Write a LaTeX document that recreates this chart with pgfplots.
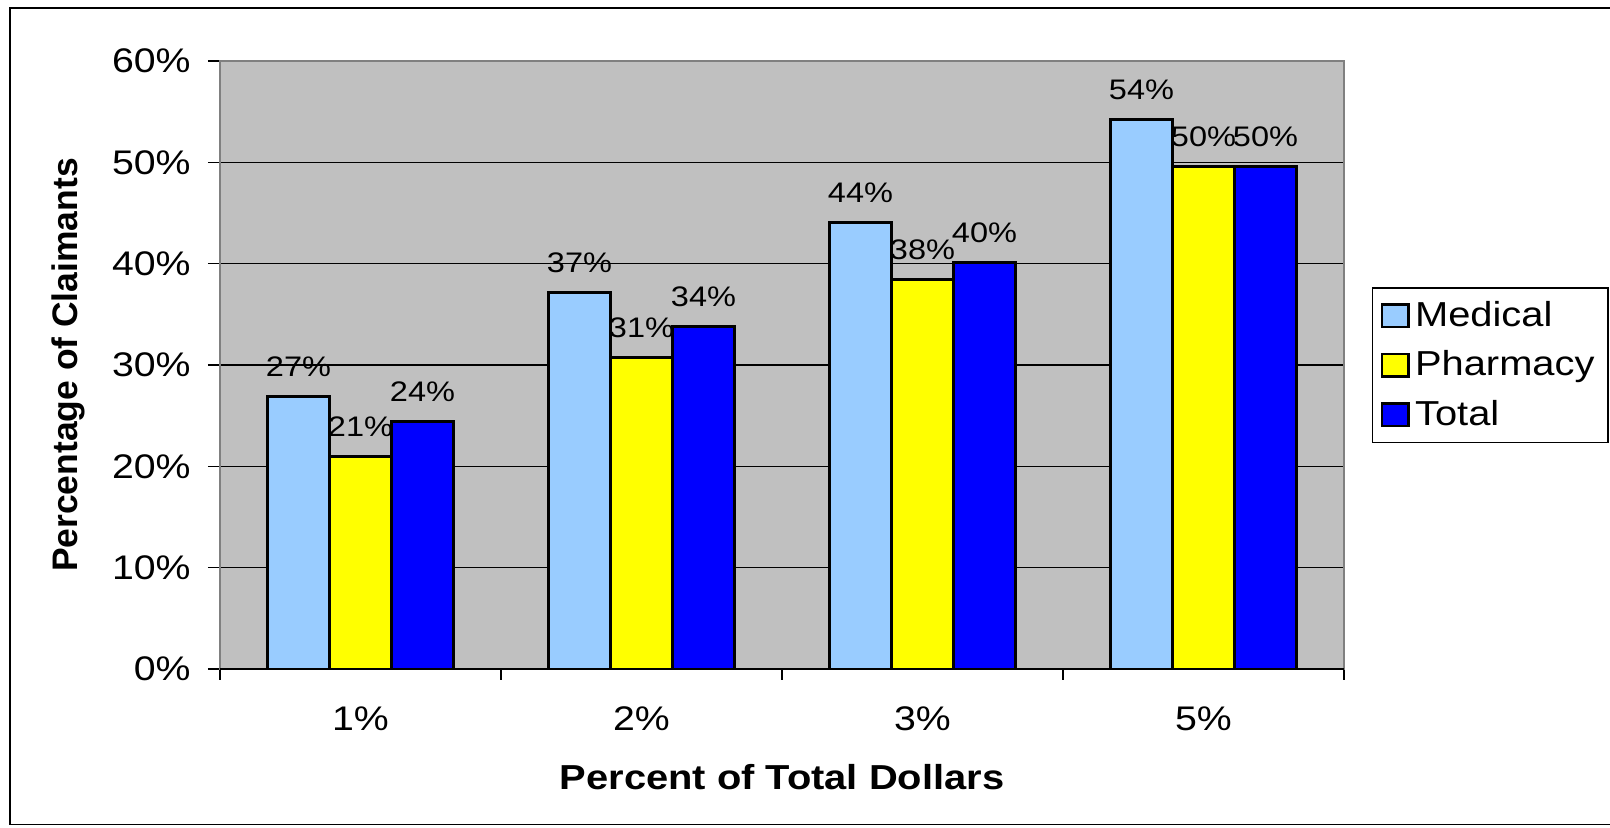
\documentclass[border=0pt]{standalone}
\usepackage{pgfplots}
\pgfplotsset{compat=1.18}
\usepackage{fontspec}
\setmainfont{Liberation Sans}[FakeStretch=1.15]
\newfontfamily\ylfont{Liberation Sans}

\definecolor{medblue}{RGB}{153,204,255}
\definecolor{pharmyel}{RGB}{255,255,0}
\definecolor{totblue}{RGB}{0,0,255}
\definecolor{plotgray}{RGB}{192,192,192}
\definecolor{framegray}{RGB}{128,128,128}

\begin{document}
\begin{tikzpicture}
% page = 1610x827 px at 0.375pt per px, axis box at origin
\useasboundingbox (-82.5pt,-59.25pt) rectangle (521.25pt,250.875pt);
\draw[black, line width=0.5pt] (-78.75pt,-58.3pt) rectangle (523pt,247.9pt);

\begin{axis}[
    at={(0,0)}, anchor=south west,
    scale only axis,
    width=421.5pt, height=228pt,
    ybar=0pt, bar width=23.25pt,
    xmin=0.5, xmax=4.5, ymin=0, ymax=60,
    xtick={1,2,3,4}, xticklabels={1\%,2\%,3\%,5\%},
    minor xtick={0.5,1.5,2.5,3.5,4.5},
    ytick={0,10,...,60},
    yticklabels={0\%,10\%,20\%,30\%,40\%,50\%,60\%},
    major x tick style={draw=none},
    minor tick length=4pt, major tick length=4.5pt,
    tick align=outside, xtick pos=bottom, ytick pos=left,
    tick style={black, line width=0.5pt},
    ymajorgrids, grid style={black, line width=0.4pt},
    axis line style={framegray, line width=1.1pt},
    axis background/.style={fill=plotgray},
    tick label style={font=\fontsize{12.8}{14}\selectfont},
    xticklabel style={anchor=center, yshift=-14pt},
    yticklabel style={anchor=east, xshift=-3pt},
    xlabel={Percent of Total Dollars},
    ylabel={\ylfont Percentage of Claimants},
    xlabel style={font=\fontsize{13}{15}\selectfont\bfseries,
        at={(axis description cs:0.5,-0.178)}, anchor=center},
    ylabel style={font=\fontsize{13.3}{15}\selectfont\bfseries,
        at={(axis description cs:-0.1345,0.5)}, anchor=center},
    point meta=explicit symbolic,
    nodes near coords={\pgfplotspointmeta},
    every node near coord/.append style={font=\fontsize{10.6}{12}\selectfont, black, yshift=3.5pt},
    legend style={at={(axis description cs:1.0249,0.628)}, anchor=north west,
        draw=black, line width=0.5pt, fill=white,
        font=\fontsize{13}{15}\selectfont,
        row sep=3.6pt, inner sep=3pt},
    legend cell align=left,
    legend image code/.code={\draw[#1, line width=0.9pt] (0pt,-4.2pt) rectangle (10pt,4.2pt);},
]
\addplot[fill=medblue, draw=black, line width=1.1pt] coordinates {
    (1,26.9) [27\%]
    (2,37.2) [37\%]
    (3,44.1) [44\%]
    (4,54.2) [54\%]
};
\addplot[fill=pharmyel, draw=black, line width=1.1pt] coordinates {
    (1,21.0) [21\%]
    (2,30.7) [31\%]
    (3,38.4) [38\%]
    (4,49.6) [50\%]
};
\addplot[fill=totblue, draw=black, line width=1.1pt] coordinates {
    (1,24.4) [24\%]
    (2,33.8) [34\%]
    (3,40.1) [40\%]
    (4,49.6) [50\%]
};
\legend{Medical,Pharmacy,Total}
\draw[black, line width=0.6pt] (rel axis cs:0,0) -- (rel axis cs:1,0);
\end{axis}
\end{tikzpicture}
\end{document}
